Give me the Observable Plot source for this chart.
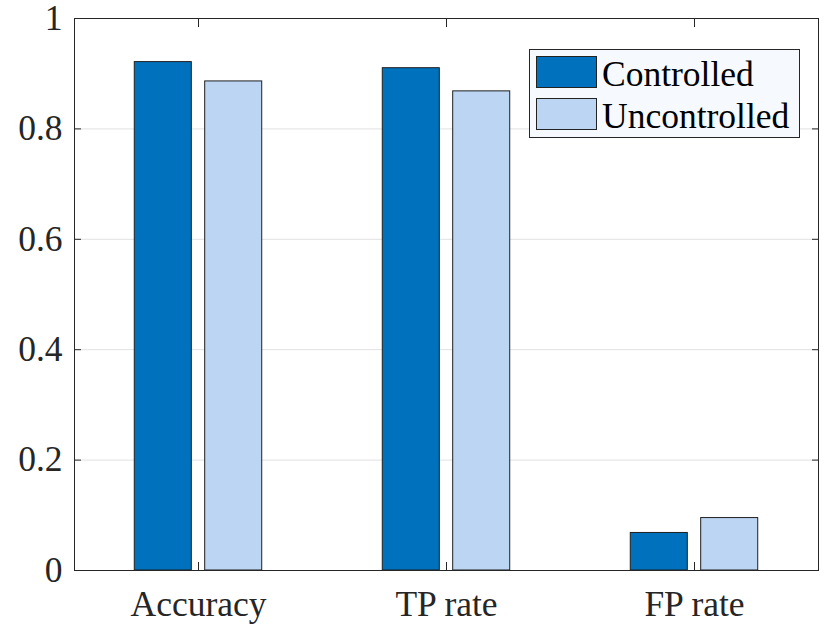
<!DOCTYPE html>
<html><head><meta charset="utf-8">
<script src="https://cdn.jsdelivr.net/npm/d3@7"></script>
<script src="https://cdn.jsdelivr.net/npm/@observablehq/plot@0.6"></script>
<style>
body{margin:0;background:#fff;}
#wrap{position:relative;width:830px;height:642px;}
#legend{position:absolute;left:529px;top:49px;width:271px;height:89px;box-sizing:border-box;border:1px solid #262626;background:#f6f9fd;font-family:"Liberation Serif",serif;font-size:35.5px;color:#000;}
.row{position:absolute;left:6px;display:flex;align-items:center;height:32px;line-height:32px;white-space:nowrap;}
.row span{position:relative;top:2px;}
.sw{width:61px;height:32px;box-sizing:border-box;border:1px solid #222;margin-right:5px;}
</style>
</head><body>
<div id="wrap"><div id="chart"></div><div id="legend"></div></div>
<script>
const categories = ["Accuracy", "TP rate", "FP rate"];
const series = ["Controlled", "Uncontrolled"];
const controlled = [0.921, 0.910, 0.068];
const uncontrolled = [0.886, 0.868, 0.095];
const yTicks = [0, 0.2, 0.4, 0.6, 0.8, 1];
const gridTicks = [0.2, 0.4, 0.6, 0.8];
const colors = ["#0072BD", "#BBD5F2"];

const rows = [];
categories.forEach((c, i) => {
  rows.push({category: c, series: series[0], value: controlled[i]});
  rows.push({category: c, series: series[1], value: uncontrolled[i]});
});

const font = '"Liberation Serif", serif';
const axisColor = "#262626";

const chart = Plot.plot({
  width: 830,
  height: 642,
  marginLeft: 74,
  marginRight: 12,
  marginTop: 18,
  marginBottom: 72,
  style: {fontFamily: font, fontSize: "35.5px", color: axisColor, background: "white"},
  fx: {domain: categories, padding: 0, label: null},
  x: {domain: series, type: "band", paddingInner: 0.19, paddingOuter: 0.856, round: false, axis: null},
  y: {domain: [0, 1], label: null},
  color: {domain: series, range: colors},
  marks: [
    Plot.gridY(gridTicks, {stroke: "#e1e1e1", strokeOpacity: 1}),
    Plot.barY(rows, {fx: "category", x: "series", y: "value", fill: "series", stroke: "#1f1f1f", strokeWidth: 1}),
    Plot.frame({anchor: "top", stroke: axisColor}),
    Plot.frame({anchor: "bottom", stroke: axisColor}),
    Plot.frame({anchor: "left", facetAnchor: "left", stroke: axisColor}),
    Plot.frame({anchor: "right", facetAnchor: "right", stroke: axisColor}),
    Plot.axisY(yTicks, {anchor: "left", tickSize: 0, tickPadding: 12, tickFormat: d => String(d), fontSize: 35.5, fill: axisColor, label: null}),
    Plot.axisY(yTicks, {anchor: "left", tickSize: -7, tickFormat: () => "", stroke: axisColor, label: null}),
    Plot.axisY(yTicks, {anchor: "right", tickSize: -7, tickFormat: () => "", stroke: axisColor, label: null}),
    Plot.axisFx({anchor: "bottom", tickSize: 0, tickPadding: 20, fontSize: 35.5, fill: axisColor, label: null}),
    Plot.axisFx({anchor: "bottom", tickSize: -8, tickFormat: () => "", stroke: axisColor, label: null}),
    Plot.axisFx({anchor: "top", tickSize: -8, tickFormat: () => "", stroke: axisColor, label: null})
  ]
});
document.getElementById("chart").appendChild(chart);

const legend = document.getElementById("legend");
series.forEach((s, i) => {
  const row = document.createElement("div");
  row.className = "row";
  row.style.top = (6 + i * 42) + "px";
  const sw = document.createElement("div");
  sw.className = "sw";
  sw.style.background = colors[i];
  const t = document.createElement("span");
  t.textContent = s;
  row.appendChild(sw);
  row.appendChild(t);
  legend.appendChild(row);
});
</script>
</body></html>
